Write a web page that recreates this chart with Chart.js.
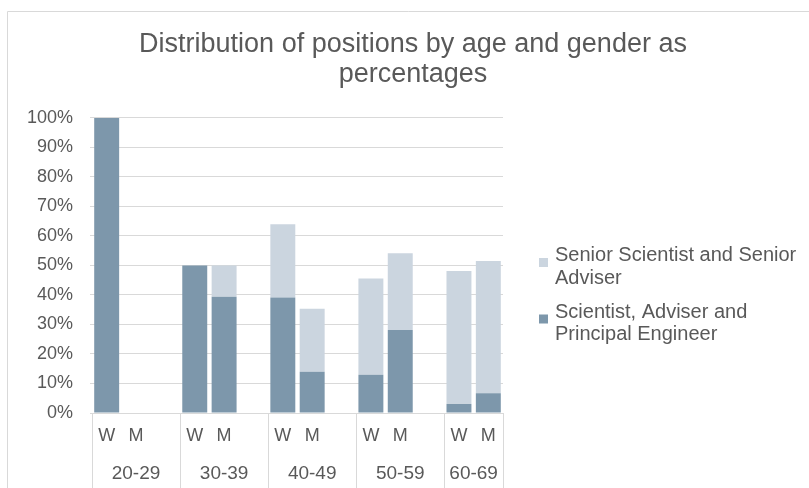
<!DOCTYPE html>
<html lang="en">
<head>
    <meta charset="UTF-8">
    <title>Distribution of positions by age and gender</title>
    <style>
        html, body {
            margin: 0;
            padding: 0;
            background: #ffffff;
        }
        .chart-container {
            position: relative;
            width: 809px;
            height: 488px;
        }
    </style>
</head>
<body>
    <div class="chart-container">
        <canvas id="positionsChart"></canvas>
    </div>

    <script src="https://cdn.jsdelivr.net/npm/chart.js"></script>
    <script>
        // Chart data
        const categories = ['W', 'M', '', 'W', 'M', '', 'W', 'M', '', 'W', 'M', '', 'W', 'M'];
        const ageGroups = ['20-29', '30-39', '40-49', '50-59', '60-69'];
        const groupSizes = [3, 3, 3, 3, 2];
        const scientistValues = [100, null, null, 50, 39.4, null, 39.1, 14.0, null, 13.0, 28.1, null, 3.1, 6.7];
        const seniorValues = [null, null, null, null, 10.6, null, 24.9, 21.3, null, 32.6, 26.0, null, 45.0, 44.8];
        const yTicks = [0, 10, 20, 30, 40, 50, 60, 70, 80, 90, 100];
        const titleLines = ['Distribution of positions by age and gender as', 'percentages'];
        const scientistLabel = ['Scientist, Adviser and', 'Principal Engineer'];
        const seniorLabel = ['Senior Scientist and Senior', 'Adviser'];

        const textColor = '#595959';
        const lineColor = '#d9d9d9';
        const darkColor = '#7d97ab';
        const lightColor = '#cbd5df';
        const fontFamily = '"Liberation Sans", Arial, sans-serif';

        // Outer frame of the chart object (partly cropped in the original)
        const framePlugin = {
            id: 'frame',
            beforeDraw(chart) {
                const ctx = chart.ctx;
                ctx.save();
                ctx.strokeStyle = lineColor;
                ctx.lineWidth = 1;
                ctx.beginPath();
                ctx.moveTo(7.5, chart.height);
                ctx.lineTo(7.5, 11.5);
                ctx.lineTo(chart.width, 11.5);
                ctx.stroke();
                ctx.restore();
            }
        };

        // Second level of the category axis: age groups with separators
        const groupAxisPlugin = {
            id: 'groupAxis',
            afterDraw(chart) {
                const ctx = chart.ctx;
                const x = chart.scales.x;
                const area = chart.chartArea;
                const slot = x.getPixelForValue(1) - x.getPixelForValue(0);
                let start = 0;
                ctx.save();
                ctx.strokeStyle = lineColor;
                ctx.lineWidth = 1;
                ctx.fillStyle = textColor;
                ctx.font = '19px ' + fontFamily;
                ctx.textAlign = 'center';
                ctx.textBaseline = 'middle';
                groupSizes.forEach((size, i) => {
                    const left = x.getPixelForValue(start) - slot / 2;
                    const right = x.getPixelForValue(start + size - 1) + slot / 2;
                    ctx.beginPath();
                    ctx.moveTo(Math.round(left) + 0.5, area.bottom);
                    ctx.lineTo(Math.round(left) + 0.5, chart.height);
                    if (i === groupSizes.length - 1) {
                        ctx.moveTo(Math.round(right) + 0.5, area.bottom);
                        ctx.lineTo(Math.round(right) + 0.5, chart.height);
                    }
                    ctx.stroke();
                    ctx.fillText(ageGroups[i], (left + right) / 2, area.bottom + 61);
                    start += size;
                });
                ctx.restore();
            }
        };

        // Legend on the right with wrapped labels (Excel order: top series first)
        const sideLegendPlugin = {
            id: 'sideLegend',
            afterDraw(chart) {
                const ctx = chart.ctx;
                const area = chart.chartArea;
                const items = [chart.data.datasets[1], chart.data.datasets[0]];
                const boxX = area.right + 36;
                const textX = area.right + 52;
                const lineHeight = 22.5;
                let y = 255.5;
                ctx.save();
                ctx.font = '20px ' + fontFamily;
                ctx.textAlign = 'left';
                ctx.textBaseline = 'middle';
                items.forEach(ds => {
                    ctx.fillStyle = ds.backgroundColor;
                    ctx.fillRect(boxX, y + 2.5, 9, 9);
                    ctx.fillStyle = textColor;
                    ds.label.forEach((line, j) => {
                        ctx.fillText(line, textX, y + j * lineHeight);
                    });
                    y += ds.label.length * lineHeight + 11.5;
                });
                ctx.restore();
            }
        };

        new Chart(document.getElementById('positionsChart').getContext('2d'), {
            type: 'bar',
            data: {
                labels: categories,
                datasets: [
                    {
                        label: scientistLabel,
                        data: scientistValues,
                        backgroundColor: darkColor,
                        barPercentage: 0.85,
                        categoryPercentage: 1.0
                    },
                    {
                        label: seniorLabel,
                        data: seniorValues,
                        backgroundColor: lightColor,
                        barPercentage: 0.85,
                        categoryPercentage: 1.0
                    }
                ]
            },
            options: {
                responsive: true,
                maintainAspectRatio: false,
                animation: false,
                layout: {
                    padding: { left: 17, right: 0, top: 0, bottom: 0 }
                },
                plugins: {
                    legend: { display: false },
                    tooltip: { enabled: false },
                    title: {
                        display: true,
                        text: titleLines,
                        color: textColor,
                        font: { family: fontFamily, size: 27, weight: 'normal', lineHeight: 1.1 },
                        padding: { top: 30, bottom: 28.5 }
                    }
                },
                scales: {
                    x: {
                        stacked: true,
                        grid: { display: false, drawTicks: false },
                        border: { display: true, color: lineColor },
                        ticks: {
                            color: textColor,
                            font: { family: fontFamily, size: 18 },
                            padding: 12,
                            autoSkip: false,
                            maxRotation: 0
                        },
                        afterFit(scale) { scale.height = 75; }
                    },
                    y: {
                        stacked: true,
                        min: 0,
                        max: 100,
                        grid: { color: lineColor, tickLength: 2 },
                        border: { display: false },
                        afterBuildTicks(scale) {
                            scale.ticks = yTicks.map(v => ({ value: v }));
                        },
                        ticks: {
                            color: textColor,
                            font: { family: fontFamily, size: 18 },
                            padding: 17,
                            callback: v => v + '%'
                        },
                        afterFit(scale) { scale.width = 75; }
                    },
                    legendSpace: {
                        position: 'right',
                        display: true,
                        grid: { display: false, drawTicks: false },
                        border: { display: false },
                        ticks: { display: false },
                        afterFit(scale) { scale.width = 306; }
                    }
                }
            },
            plugins: [framePlugin, groupAxisPlugin, sideLegendPlugin]
        });
    </script>
</body>
</html>
